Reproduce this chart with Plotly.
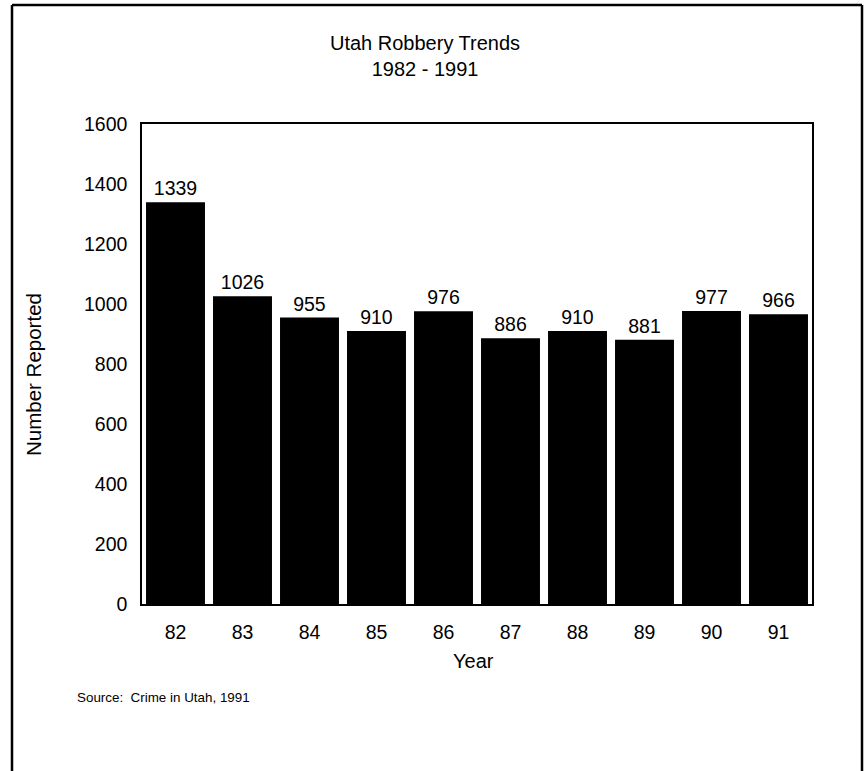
import plotly.graph_objects as go

years = ["82", "83", "84", "85", "86", "87", "88", "89", "90", "91"]
robberies = [1339, 1026, 955, 910, 976, 886, 910, 881, 977, 966]
y_ticks = [0, 200, 400, 600, 800, 1000, 1200, 1400, 1600]

FONT = "Liberation Sans, Arial, Helvetica, sans-serif"

W, H = 864, 771
L, R, T, B = 142, 812, 124, 604          # plot area in page pixels
pw, ph = R - L, B - T

def px(x):
    return (x - L) / pw

def py(y):
    return (B - y) / ph

fig = go.Figure()
fig.add_trace(go.Bar(
    x=years, y=robberies,
    marker=dict(color="black", line=dict(width=0)),
    text=[str(v) for v in robberies],
    textposition="outside",
    textfont=dict(family=FONT, size=19.5, color="black"),
    cliponaxis=False,
))

fig.update_layout(
    width=W, height=H,
    margin=dict(l=L, r=W - R, t=T, b=H - B),
    paper_bgcolor="white", plot_bgcolor="white",
    font=dict(family=FONT, color="black", size=19),
    bargap=0.12,
    showlegend=False,
    xaxis=dict(
        type="category",
        showline=True, linecolor="black", linewidth=1.5, mirror=True,
        ticks="", showgrid=False, zeroline=False,
        tickfont=dict(size=19.5),
        ticklabelstandoff=10,
    ),
    yaxis=dict(
        range=[0, 1600], tickvals=y_ticks,
        showline=True, linecolor="black", linewidth=1.5, mirror=True,
        ticks="", showgrid=False, zeroline=False,
        tickfont=dict(size=19.5),
        ticklabelstandoff=9,
    ),
)

annotations = [
    dict(text="Utah Robbery Trends<br>1982 - 1991", x=px(425), y=py(56),
         font=dict(size=20)),
    dict(text="Number Reported", x=px(33), y=py(375), textangle=-90,
         font=dict(size=20.5)),
    dict(text="Year", x=px(473), y=py(661), font=dict(size=20)),
    dict(text="Source:  Crime in Utah, 1991", x=px(75), y=py(697), xanchor="left",
         font=dict(size=13.4)),
]
for a in annotations:
    a.setdefault("xanchor", "center")
    a.update(xref="paper", yref="paper", yanchor="middle", showarrow=False)
    fig.add_annotation(**a)

# outer frame of the scanned page
frame = [
    (12, 5, 862, 5),
    (12, 5, 12, 771),
    (862, 5, 862, 771),
]
for x0, y0, x1, y1 in frame:
    fig.add_shape(type="line", xref="paper", yref="paper",
                  x0=px(x0), y0=py(y0), x1=px(x1), y1=py(y1),
                  line=dict(color="black", width=2.5))

fig.write_html(
    "out.html",
    config={"displayModeBar": False},
    post_script="document.body.style.margin='0px';document.body.style.overflow='hidden';",
)
